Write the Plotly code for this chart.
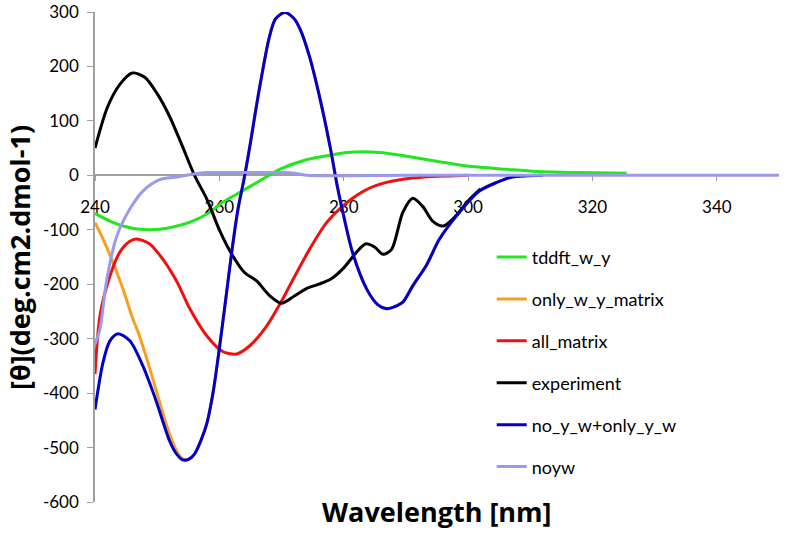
import plotly.graph_objects as go

# ---- data ----
tddft_x = [240, 242.4, 244.5, 247.2, 250.4, 253.2, 255.3, 258, 260.6, 263.5, 266.5, 269.7,
           274.1, 277.8, 280.5, 285.8, 290.1, 294.9, 299.8, 306.2, 311, 317.9, 325.5]
tddft_y = [-70, -84, -93, -99, -99, -93, -86, -71, -49, -30, -10, 11,
           29, 37, 42, 42, 35, 26, 17, 11, 7, 5, 4]

only_x = [240, 241.3, 242.9, 244.5, 246.1, 247, 248.5, 250.1, 251, 252, 253, 254, 255, 256,
          257, 258, 259, 260, 261, 262, 263, 264, 265, 266, 267, 268, 269, 270.5, 272, 273,
          274.5, 276, 277.8, 279, 280, 281.4, 283.7, 285.5, 286.9, 288, 289.5, 291.1, 293.3,
          295.4, 298.6, 301.8, 304.6, 307.1, 309, 312]
only_y = [-87, -117, -160, -209, -264, -290, -343, -405, -440, -475, -503, -520, -522, -512,
          -488, -455, -398, -318, -230, -140, -62, -5, 60, 130, 195, 252, 287, 299, 288, 268,
          218, 150, 53, -22, -75, -141, -209, -238, -245, -242, -233, -203, -165,
          -117, -68, -29, -13, -3, -1, 0]

allm_x = [240, 240.8, 242.4, 244, 245.5, 246.7, 248.8, 250.9, 253.2, 255.3, 258, 260.6, 262.8,
          264.9, 267.6, 270.2, 271.3, 274.5, 277.3, 280.5, 283.7, 286.9, 291.1, 294.3, 297, 300]
allm_y = [-365, -258, -185, -141, -122, -117, -126, -154, -196, -246, -295, -324, -328,
          -313, -277, -227, -203, -136, -86, -50, -26, -13, -5, -2, -1, 0]

exp_x = [240, 242, 244, 246, 248, 250, 252, 254, 256, 258, 260, 262, 264, 266, 268, 270, 272,
         274, 276, 278, 280, 282, 283.5, 285, 286.3, 287.7, 289.5, 291.1, 292.7, 294.3, 296,
         298, 300, 302]
exp_y = [50, 125, 167, 188, 180, 150, 108, 55, 0, -44, -100, -145, -178, -194, -220, -235, -222,
         -208, -200, -190, -170, -142, -126, -132, -145, -136, -68, -42, -57, -84, -93,
         -75, -47, -25]

noyw_only_x = [240, 241.3, 242.4, 243.7, 245.6, 247.7, 249, 250, 251, 252, 253, 254, 255, 256,
               257, 258, 259, 260, 261, 262, 263, 264, 265, 266, 267, 268, 269, 270.5, 272, 273,
               274.5, 276, 277.8, 279, 280, 281.4, 283.7, 285.5, 286.9, 288, 289.5, 291.1, 293.3,
               295.4, 298.6, 301.8, 304.6, 307.1, 309, 312]
noyw_only_y = [-430, -343, -304, -291, -304, -350, -388, -420, -455, -488, -510, -522, -522, -512,
               -488, -455, -398, -318, -230, -140, -62, -5, 60, 130, 195, 252, 287, 299, 288, 268,
               218, 150, 53, -22, -75, -141, -209, -238, -245, -242, -233, -203, -165,
               -117, -68, -29, -13, -3, -1, 0]

noyw_x = [240, 240.8, 241.9, 243.5, 245.6, 247.7, 250.4, 253.2, 255.7, 258, 265, 270, 272, 274,
          290, 320, 350]
noyw_y = [-310, -282, -191, -112, -62, -29, -8, -3, 2, 5, 5, 5, 4, 0, 0, 0, 0]

x_ticks = [240, 260, 280, 300, 320, 340]
y_ticks = [300, 200, 100, 0, -100, -200, -300, -400, -500, -600]

series = [
    ("tddft_w_y", tddft_x, tddft_y, "#22e622"),
    ("only_w_y_matrix", only_x, only_y, "#f5a020"),
    ("all_matrix", allm_x, allm_y, "#ee1111"),
    ("experiment", exp_x, exp_y, "#000000"),
    ("no_y_w+only_y_w", noyw_only_x, noyw_only_y, "#0000cc"),
    ("noyw", noyw_x, noyw_y, "#9999ee"),
]

FONT = "Lato"
TFONT = "Open Sans"
W, H = 786, 536
L, T = 95, 12
R = W - 779
B = H - 502
plot_w = W - L - R
plot_h = H - T - B


def px_x(sx):  # pixel x -> paper x
    return (sx - L) / plot_w


def px_y(sy):  # pixel y -> paper y
    return (H - B - sy) / plot_h


fig = go.Figure()
for name, xs, ys, col in series:
    fig.add_trace(go.Scatter(
        x=xs, y=ys, name=name, mode="lines",
        line=dict(color=col, width=3, shape="spline", smoothing=0.8),
        legendgroup=name,
    ))

fig.update_layout(
    width=W, height=H,
    margin=dict(l=L, r=R, t=T, b=B, autoexpand=False),
    paper_bgcolor="white", plot_bgcolor="white",
    font=dict(family=FONT, size=17, color="black"),
    showlegend=True,
    legend=dict(x=0.58, y=0.537, xanchor="left", yanchor="top",
                font=dict(family=FONT, size=18, color="black"),
                tracegroupgap=15.5, bgcolor="rgba(0,0,0,0)"),
    xaxis=dict(range=[240, 350], tickvals=x_ticks, ticktext=[str(v) for v in x_ticks],
               anchor="free", position=600 / 900, showline=True, linecolor="#a0a0a0",
               linewidth=1.5, ticks="outside", ticklen=5, tickcolor="#a0a0a0",
               showgrid=False, zeroline=False, layer="below traces", automargin=False,
               ticklabelstandoff=12, ticklabeloverflow="allow", tickfont=dict(size=17)),
    yaxis=dict(range=[-600, 300], tickvals=y_ticks, ticktext=[str(v) for v in y_ticks],
               showline=True, linecolor="#a0a0a0", linewidth=1.5, ticks="outside",
               ticklen=6, tickcolor="#a0a0a0", showgrid=False, zeroline=False,
               layer="below traces", automargin=False, ticklabelstandoff=5,
               ticklabeloverflow="allow", tickfont=dict(size=17)),
)
fig.add_annotation(text="<b>Wavelength [nm]</b>", xref="paper", yref="paper",
                   x=0.5, y=px_y(511), showarrow=False,
                   font=dict(family=TFONT, size=27), xanchor="center", yanchor="middle")
fig.add_annotation(text="<b>[θ](deg.cm2.dmol-1)</b>", xref="paper", yref="paper",
                   x=px_x(19), y=px_y(258), textangle=-90,
                   showarrow=False, font=dict(family=TFONT, size=27),
                   xanchor="center", yanchor="middle")

fig.write_html("out.html", config={"displayModeBar": False},
               post_script="document.body.style.margin='0px';document.body.style.padding='0px';")
